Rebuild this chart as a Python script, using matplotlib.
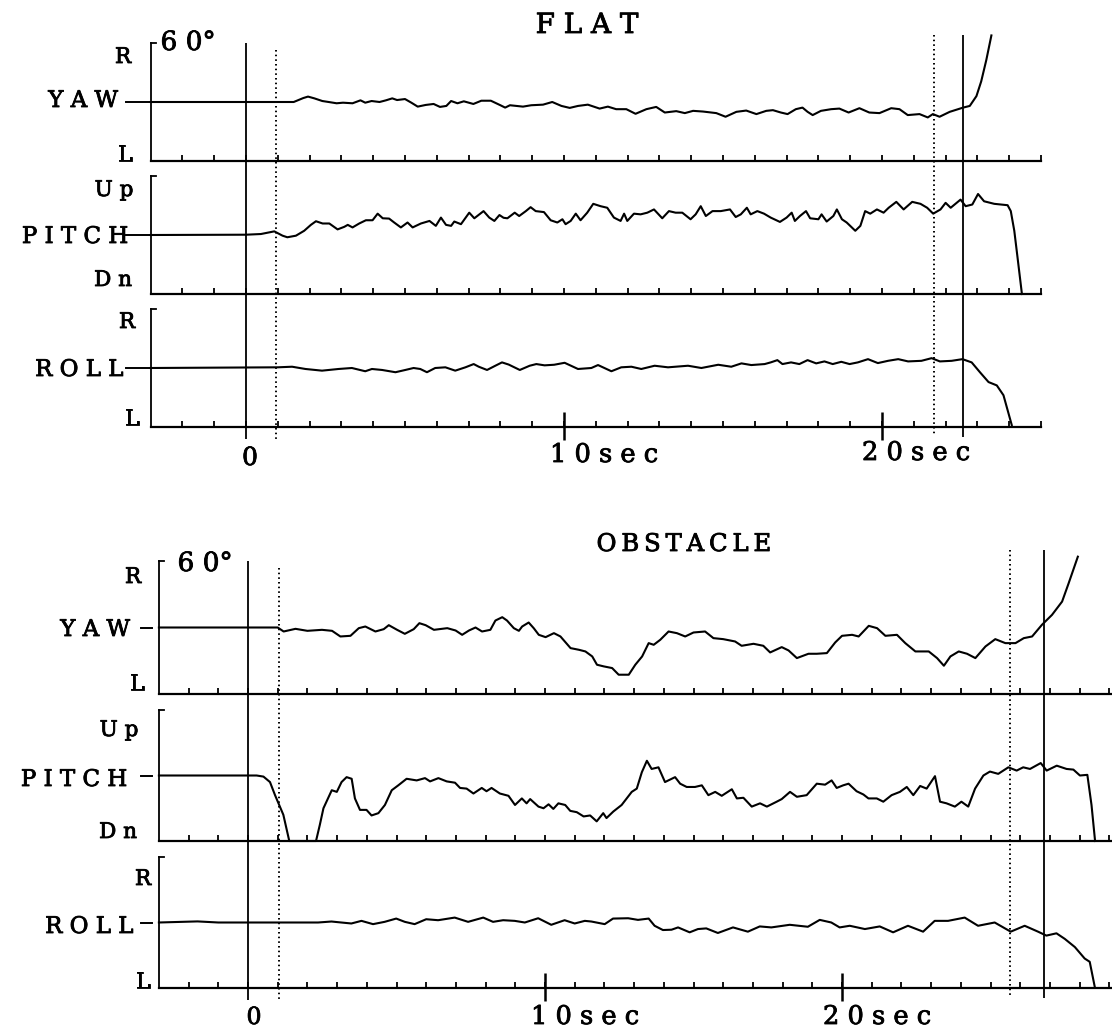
import numpy as np
import matplotlib
matplotlib.use('Agg')
import matplotlib.pyplot as plt
import matplotlib.patheffects as pe
from matplotlib.lines import Line2D

# time (sec) / angle (deg) readings of the six traces
flat_yaw = [(-3, 0), (1.5, 0), (1.8, 4), (1.95, 5.5), (2.15, 3.7), (2.4, 1), (2.6, 0), (2.85, -1.3), (3.05, -0.7),
            (3.35, -1.3), (3.6, 1.7), (3.75, -0.7), (3.95, 1), (4.2, 0), (4.4, 1.7), (4.6, 3.7), (4.75, 2), (5.0, 3),
            (5.2, -0.7), (5.4, -4.7), (5.65, -3), (5.9, -2), (6.1, -5), (6.3, -4), (6.45, 1), (6.65, -1.3),
            (6.85, 0.7), (7.15, -2), (7.4, 1.3), (7.7, 1.3), (8.0, -3.3), (8.15, -5.7), (8.3, -3.3), (8.71, -4.7),
            (8.97, -3.3), (9.34, -2.7), (9.63, 0), (9.92, -4), (10.18, -6), (10.44, -4), (10.75, -2.7),
            (11.12, -6.7), (11.38, -4.7), (11.64, -7.3), (11.96, -7.3), (12.25, -12), (12.59, -7.3), (12.9, -5),
            (13.17, -10.7), (13.53, -9.3), (13.8, -11.3), (14.06, -9), (14.37, -9.7), (14.79, -11.3), (15.08, -15),
            (15.42, -10), (15.73, -8.7), (16.05, -12.3), (16.36, -9), (16.57, -8.3), (16.82, -10.7), (17.03, -12.3),
            (17.29, -7.3), (17.5, -5.7), (17.66, -10), (17.82, -13.3), (18.08, -9), (18.4, -7.3), (18.66, -6.7),
            (18.95, -10.7), (19.29, -6.3), (19.6, -10.7), (19.92, -11.3), (20.29, -6.3), (20.55, -7.3),
            (20.81, -13.3), (21.18, -12.3), (21.44, -15.7), (21.6, -12.3), (21.81, -15), (22.13, -10), (22.55, -5.7),
            (22.76, -4), (22.97, 6), (23.12, 21), (23.28, 42.7), (23.44, 67.7)]

flat_pitch = [(-3, 0), (0, 0.3), (0.47, 1), (0.89, 3.7), (1.15, -0.7), (1.3, -2.3), (1.57, -0.7), (1.83, 4.3),
              (2.04, 10.3), (2.2, 14), (2.41, 11.7), (2.62, 11.7), (2.88, 5.7), (3.09, 8.3), (3.2, 10.3), (3.35, 7.7),
              (3.56, 11.7), (3.77, 15), (3.98, 15), (4.14, 21.7), (4.3, 17), (4.5, 16.7), (4.66, 12.7), (4.87, 7.7),
              (5.08, 12.7), (5.24, 7.7), (5.5, 11.7), (5.77, 14.3), (5.97, 9.3), (6.13, 17.7), (6.29, 10.3),
              (6.45, 9.3), (6.55, 13.7), (6.76, 11), (7.02, 22.7), (7.18, 17), (7.47, 24.3), (7.65, 17.7),
              (7.81, 14.3), (7.97, 20.3), (8.1, 17.5), (8.22, 17), (8.45, 22.7), (8.59, 19.3), (8.8, 24.3),
              (8.95, 28.3), (9.11, 24.3), (9.37, 23.3), (9.58, 15), (9.79, 12.7), (9.95, 16), (10.05, 11),
              (10.21, 14.3), (10.37, 21.7), (10.52, 15), (10.73, 22.7), (10.92, 31.7), (11.15, 29.3), (11.36, 27.7),
              (11.57, 17.7), (11.78, 14.3), (11.89, 21.7), (11.99, 14.3), (12.2, 21.7), (12.41, 21), (12.62, 22.7),
              (12.83, 26), (13.09, 17), (13.3, 24.3), (13.51, 22.7), (13.72, 22.7), (13.98, 16), (14.14, 21),
              (14.3, 29.3), (14.46, 19.3), (14.67, 24.3), (14.93, 24.3), (15.22, 26), (15.4, 18.3), (15.56, 21),
              (15.75, 27.7), (15.87, 21), (16.08, 24.3), (16.29, 21.7), (16.5, 17.7), (16.79, 13.3), (17.0, 17.7),
              (17.16, 22.7), (17.26, 14.3), (17.42, 19.3), (17.61, 24.3), (17.74, 17), (18.0, 16), (18.1, 21),
              (18.26, 13.7), (18.47, 19.3), (18.58, 26), (18.74, 16), (18.89, 12.7), (19.16, 4.3), (19.32, 9.3),
              (19.47, 24.3), (19.63, 21.7), (19.84, 26), (20.05, 22.7), (20.21, 27.7), (20.45, 33.7), (20.68, 26),
              (20.95, 33.7), (21.21, 31.7), (21.42, 27.7), (21.61, 21.7), (21.84, 26), (22.0, 32.7), (22.16, 27.7),
              (22.47, 36), (22.63, 29.3), (22.84, 31), (23.02, 41.7), (23.21, 34.3), (23.53, 31.7), (23.95, 30.3),
              (24.05, 24.3), (24.16, 4.3), (24.26, -22.3), (24.4, -60)]

flat_roll = [(-3, 0), (1.0, 0.7), (1.45, 1.3), (1.87, -1), (2.39, -2.7), (2.91, -1), (3.33, 0), (3.75, -3.3),
             (3.96, -1), (4.28, -2), (4.7, -4.3), (5.01, -2), (5.27, 0), (5.48, -1), (5.69, -4.3), (5.95, 0),
             (6.27, 0.7), (6.58, -2.7), (6.9, 0.7), (7.16, 4), (7.32, 1.3), (7.58, -2), (7.84, 2.3), (8.05, 5.7),
             (8.26, 3.5), (8.61, -2), (8.92, 2.3), (9.13, 4), (9.39, 2.7), (9.69, 3.3), (10.02, 5.3), (10.44, -1),
             (10.86, 0), (11.07, 3), (11.49, -3.3), (11.8, 0.7), (12.12, 1.3), (12.43, -1), (12.85, 2.3),
             (13.27, 0.7), (13.9, 2.3), (14.32, 0), (14.85, 3.3), (15.26, 1.3), (15.58, 4.7), (15.89, 3), (16.31, 4),
             (16.5, 5.7), (16.71, 8), (16.87, 4), (17.14, 5.7), (17.4, 4), (17.66, 8), (17.93, 4.7), (18.19, 6.7),
             (18.45, 4), (18.72, 6.3), (18.98, 4), (19.24, 5.7), (19.56, 9), (19.87, 5), (20.19, 7.3), (20.51, 9),
             (20.82, 6.7), (21.24, 7.3), (21.56, 10), (21.82, 6.7), (22.19, 7.3), (22.53, 9), (22.82, 5.7),
             (23.08, -4.3), (23.35, -14.3), (23.61, -17.7), (23.82, -27.7), (24.08, -58)]

obst_yaw = [(-3, 0), (1.0, 0), (1.2, -3.6), (1.6, -1.2), (2.0, -3), (2.49, -2.1), (2.83, -3), (3.11, -8.1),
            (3.45, -7.5), (3.73, -0.6), (3.95, 0.9), (4.29, -3.6), (4.57, -1.5), (4.74, 2.1), (5.02, -2.1),
            (5.28, -5.7), (5.58, -1.5), (5.77, 3.9), (5.98, 2.1), (6.26, -2.1), (6.71, -0.6), (6.99, -2.7),
            (7.21, -6.6), (7.44, -2.7), (7.66, 0), (7.88, -3.6), (8.16, -2.1), (8.33, 6.3), (8.56, 9.3), (8.72, 6.3),
            (8.95, -0.6), (9.12, -3), (9.23, 0.9), (9.45, 4.5), (9.62, -0.6), (9.79, -6.6), (10.02, -8.7),
            (10.3, -5.1), (10.52, -8.1), (10.86, -18.6), (11.14, -20.1), (11.36, -21.6), (11.59, -26.1),
            (11.75, -33.6), (11.98, -35.1), (12.26, -36.6), (12.48, -42.6), (12.82, -42.6), (13.04, -33.6),
            (13.27, -26.1), (13.49, -14.1), (13.66, -15.6), (13.88, -11.1), (14.16, -3.6), (14.44, -5.1),
            (14.72, -8.1), (15.0, -4.5), (15.39, -3.6), (15.67, -9.6), (16.0, -10.5), (16.4, -12.6), (16.62, -16.5),
            (17.02, -14.7), (17.35, -16.5), (17.58, -22.5), (17.97, -17.7), (18.2, -20.7), (18.48, -27.6),
            (18.87, -23.7), (19.15, -23.7), (19.49, -23.1), (19.77, -13.5), (20.0, -7.5), (20.34, -6.6),
            (20.56, -8.1), (20.9, 1.5), (21.18, -0.6), (21.46, -7.5), (21.85, -6.6), (22.13, -14.1), (22.47, -21.6),
            (22.92, -21.6), (23.2, -27.6), (23.43, -34.5), (23.65, -26.1), (23.93, -21.6), (24.21, -23.7),
            (24.49, -27.6), (24.83, -17.1), (25.16, -10.5), (25.5, -14.1), (25.84, -14.1), (26.12, -9.6),
            (26.4, -8.1), (26.73, 2.4), (27.07, 11.4), (27.41, 23.4), (27.63, 39.9), (27.94, 63.9)]

obst_pitch = [(-3, 0), (0.29, 0), (0.52, -1), (0.74, -6), (0.91, -18), (1.19, -36), (1.39, -60), (2.29, -60),
              (2.42, -45), (2.54, -30), (2.82, -13.5), (2.99, -15), (3.15, -6), (3.32, -1.5), (3.49, -3), (3.6, -21),
              (3.77, -31.5), (3.99, -31.5), (4.16, -36.6), (4.39, -34.5), (4.61, -27), (4.84, -13.5), (5.06, -9),
              (5.34, -3), (5.68, -4.5), (5.96, -2.4), (6.13, -5.4), (6.41, -2.4), (6.69, -5.4), (6.97, -6.6),
              (7.14, -11.4), (7.36, -12), (7.59, -16.5), (7.87, -11.4), (8.03, -14.4), (8.2, -11.4), (8.48, -16.5),
              (8.77, -18.6), (8.99, -27), (9.22, -21), (9.38, -25.5), (9.5, -21.6), (9.78, -28.5), (9.95, -30),
              (10.12, -26.4), (10.28, -30.6), (10.45, -25.5), (10.68, -27), (10.85, -32.4), (11.07, -33.6),
              (11.3, -37.5), (11.52, -36.6), (11.74, -42), (11.96, -34.5), (12.07, -39), (12.3, -33), (12.58, -27),
              (12.92, -15), (13.09, -12), (13.26, 3), (13.43, 13.5), (13.59, 6), (13.82, 7.5), (14.04, -6),
              (14.38, -1.5), (14.55, -7.5), (14.77, -10.5), (15.05, -10.5), (15.28, -9), (15.5, -18), (15.73, -15),
              (15.95, -18.6), (16.29, -12.6), (16.46, -21), (16.68, -20.4), (16.96, -28.5), (17.24, -25.5),
              (17.47, -28.5), (17.8, -24), (17.97, -21.6), (18.25, -15), (18.48, -19.5), (18.81, -18), (19.15, -7.5),
              (19.43, -8.4), (19.65, -4.5), (19.82, -11.4), (20.04, -9), (20.22, -7.5), (20.49, -14.4),
              (20.72, -17.4), (20.89, -21), (21.17, -21), (21.39, -24), (21.67, -18), (21.95, -15), (22.18, -10.5),
              (22.4, -18), (22.63, -9.6), (22.85, -12), (23.13, -0.6), (23.3, -24), (23.52, -25.5), (23.8, -28.5),
              (24.02, -24), (24.25, -28.5), (24.48, -12), (24.76, 0), (24.98, 3.6), (25.26, 1.5), (25.6, 7.5),
              (25.88, 4.5), (26.1, 7.5), (26.33, 6), (26.69, 11.4), (26.89, 4.5), (27.23, 9), (27.56, 6),
              (27.79, 5.4), (28.01, 0), (28.26, 0.6), (28.4, -27), (28.52, -60)]

obst_roll = [(-3, 0), (-1.7, 1), (-1.0, 0), (2.36, 0), (2.81, 0.9), (3.14, 0), (3.48, -0.9), (3.82, 1.5),
             (4.21, -1.5), (4.6, 0.6), (4.99, 3.6), (5.28, 0.6), (5.61, -1.5), (6.0, 3), (6.4, 2.1), (6.96, 4.5),
             (7.41, 0.6), (7.92, 4.5), (8.25, 0.6), (8.59, 2.1), (8.98, 1.5), (9.32, 0), (9.77, 3.9), (10.21, -2.1),
             (10.66, 2.1), (11.0, -0.9), (11.34, 1.5), (11.56, 0.9), (12.01, -1.5), (12.29, 3.6), (12.8, 3.9),
             (13.13, 2.4), (13.49, 3.6), (13.69, -3), (13.97, -6.9), (14.26, -6.6), (14.48, -4.5), (14.87, -9),
             (15.15, -6), (15.43, -5.4), (15.82, -9.6), (16.33, -4.5), (16.83, -8.4), (17.23, -3.6), (17.62, -4.5),
             (18.24, -2.1), (18.85, -3.9), (19.25, 2.4), (19.64, 0), (19.92, -4.5), (20.26, -3), (20.77, -6),
             (21.27, -3.6), (21.72, -9), (22.22, -3), (22.73, -8.4), (23.12, 1.5), (23.57, 1.5), (24.13, 4.5),
             (24.58, -3), (25.14, 0), (25.68, -8.4), (26.15, -3), (26.6, -8.4), (26.88, -12), (27.22, -9.9),
             (27.5, -15), (27.84, -22.5), (28.17, -33), (28.34, -36), (28.51, -59)]

# event markers (sec): solid = start / stop, dotted = secondary marks
flat_solid = [0, 22.55]
flat_dotted = [0.95, 21.65]
obst_solid = [0, 26.8]
obst_dotted = [1.05, 25.65]
major_secs = [10, 20]
rows = ['YAW', 'PITCH', 'ROLL']
row_ends = [('R', 'L'), ('Up', 'Dn'), ('R', 'L')]

W, H = 1112, 1030
SERIF = 'DejaVu Serif'
fig = plt.figure(figsize=(W / 100, H / 100), dpi=100)
bolder = [pe.withStroke(linewidth=0.6, foreground='k')]


def spaced(s, gap=' '):
    return gap.join(s)


def px_axes(x0, y0, x1, y1):
    return fig.add_axes([x0 / W, 1 - y1 / H, (x1 - x0) / W, (y1 - y0) / H])


def ftext(x, y, s, size, ha='center'):
    # y is the baseline, in pixels from the top
    fig.text(x / W, 1 - y / H, s, ha=ha, va='baseline', fontsize=size, family=SERIF,
             path_effects=bolder)


def fline(x0, x1, y):
    fig.add_artist(Line2D([x0 / W, x1 / W], [1 - y / H, 1 - y / H], color='k', lw=1.4,
                          transform=fig.transFigure))


def strip(x0, x1, y0, y1, tmax, pairs):
    ax = px_axes(x0, y0, x1, y1)
    ax.set_xlim(-3, tmax)
    ax.set_ylim(-60, 60)
    ax.patch.set_alpha(0)
    ax.spines['top'].set_visible(False)
    ax.spines['right'].set_visible(False)
    ax.spines['left'].set_linewidth(1.3)
    ax.spines['bottom'].set_linewidth(1.6)
    ax.set_yticks([])
    ax.set_xticks(np.arange(-2, int(tmax) + 1))
    ax.tick_params(axis='x', direction='in', length=4, width=1.3, labelbottom=False)
    # small bracket hook on top of the left spine
    ax.plot([-3, -3 + 5 * (tmax + 3) / (x1 - x0)], [60, 60], color='k', lw=1.3, clip_on=False)
    t, v = np.array(pairs).T
    ax.plot(t, v, color='k', lw=1.5, clip_on=False)
    return ax


def panel(x0, x1, tmax, frames, series, solid, dotted, span, big):
    for (y0, y1), pairs in zip(frames, series):
        strip(x0, x1, y0, y1, tmax, pairs)
    ov = px_axes(x0, span[0], x1, span[1])
    ov.set_xlim(-3, tmax)
    ov.set_ylim(span[1], span[0])
    ov.axis('off')
    for t, (a, b) in zip(solid, [(frames[0][0], big[1] - 1), (span[0] + 5, big[1] - 3)]):
        ov.vlines(t, a, b, color='k', lw=1.3)
    for t, (a, b) in zip(dotted, [(frames[0][0] + 7, big[1]), (span[0] + 5, big[1] - 6)]):
        ov.vlines(t, a, b, color='k', lw=1.4, linestyles=(0, (0.8, 1.6)))
    ov.vlines(major_secs, big[0], big[1], color='k', lw=1.8)


def labels(frames, name_x, name_y, dash, ends):
    for (y0, y1), name, nx, ny, (hi, lo), (hx, hy, lx, ly) in zip(frames, rows, name_x, name_y, row_ends, ends):
        ftext(nx, ny, spaced(name), 16.5, ha='right')
        fline(dash[0], dash[1], (y0 + y1) / 2)
        ftext(hx, hy, spaced(hi), 15.5)
        ftext(lx, ly, spaced(lo), 15.5)


# ---- FLAT ----
top_frames = [(43, 161), (176, 294), (309, 427)]
panel(150.6, 1041, 25, top_frames, [flat_yaw, flat_pitch, flat_roll],
      flat_solid, flat_dotted, (30, 445), (412, 440))
ftext(587, 33, spaced('FLAT'), 20)
ftext(188, 50, '6 0°', 19)
labels(top_frames, [118, 128, 123], [107, 243, 376], (126, 150.6),
       [(123, 63, 125, 161), (114, 196, 113, 286), (127, 328, 132, 425)])
ftext(250, 465, '0', 18)
ftext(550, 462, spaced('10sec'), 18.5, ha='left')
ftext(862, 460, spaced('20sec'), 18.5, ha='left')

# ---- OBSTACLE ----
bot_frames = [(561, 694), (710, 841), (857, 988)]
panel(158.9, 1112, 29.09, bot_frames, [obst_yaw, obst_pitch, obst_roll],
      obst_solid, obst_dotted, (545, 1010), (973, 1001))
ftext(684, 551, spaced('OBSTACLE', '\u2009'), 17.5)
ftext(205, 571, '6 0°', 19)
labels(bot_frames, [130, 127, 133], [636, 786, 933], (141, 152),
       [(133, 583, 137, 690), (119, 736, 118, 838), (143, 885, 143, 988)])
ftext(254, 1024, '0', 17)
ftext(531, 1024, spaced('10sec'), 18.5, ha='left')
ftext(823, 1024, spaced('20sec'), 18.5, ha='left')

fig.savefig('out.png', dpi=100, facecolor='white')
